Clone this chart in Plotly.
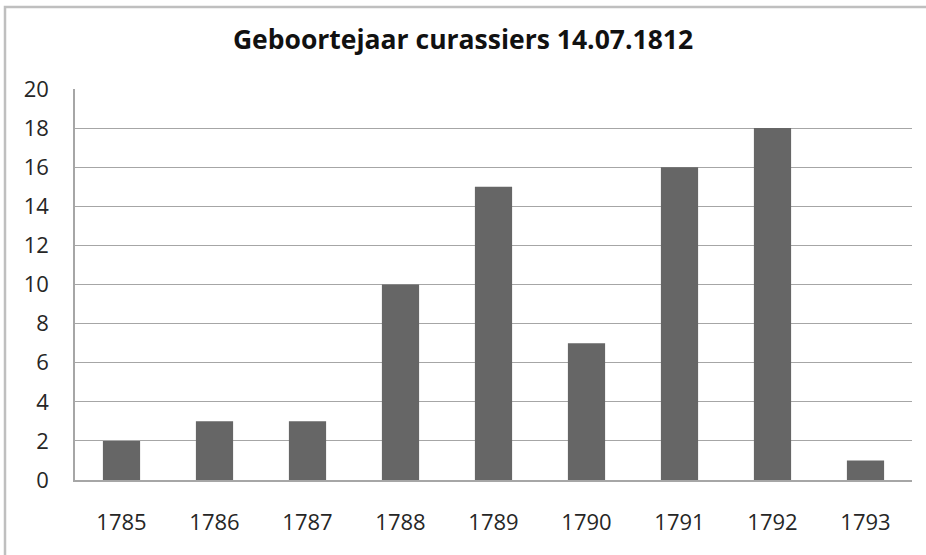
import plotly.graph_objects as go

years = ["1785", "1786", "1787", "1788", "1789", "1790", "1791", "1792", "1793"]
counts = [2, 3, 3, 10, 15, 7, 16, 18, 1]
y_ticks = [0, 2, 4, 6, 8, 10, 12, 14, 16, 18, 20]
title_text = "Geboortejaar curassiers 14.07.1812"

L, R, T, B = 75, 14, 89, 75
W, H = 926, 555
pw = W - L - R
ph = H - T - B

fig = go.Figure(go.Bar(x=years, y=counts, marker=dict(color="#666666", line=dict(width=0))))

fig.update_layout(
    width=W, height=H,
    margin=dict(l=L, r=R, t=T, b=B),
    plot_bgcolor="white", paper_bgcolor="white",
    bargap=0.6,
    showlegend=False,
    font=dict(family="'Open Sans', sans-serif", size=22, color="#262626"),
    title=dict(text="<b>" + title_text + "</b>", x=0.5, xanchor="center", y=1 - 40 / H, yanchor="middle",
               font=dict(size=26.5, color="#111111")),
    xaxis=dict(showgrid=False, showline=True, linecolor="#a6a6a6", linewidth=1.5,
               ticks="", ticklabelstandoff=22, mirror=False),
    yaxis=dict(range=[0, 20], tickvals=y_ticks, showgrid=True, gridcolor="#a6a6a6", gridwidth=1.2,
               showline=True, linecolor="#a6a6a6", linewidth=1.5, ticks="", ticklabelstandoff=20,
               zeroline=False),
)

# outer chart border (partially cropped at right/bottom in reference)
x0 = (5 - L) / pw
y1 = (H - B - 7) / ph
fig.add_shape(type="rect", xref="paper", yref="paper", x0=x0, x1=(W + 20 - L) / pw,
              y0=-(B + 20) / ph, y1=y1, line=dict(color="#bfbfbf", width=2.5), layer="below")

fig.write_html("out.html", config={"displayModeBar": False},
               post_script="document.body.style.margin='0';")
